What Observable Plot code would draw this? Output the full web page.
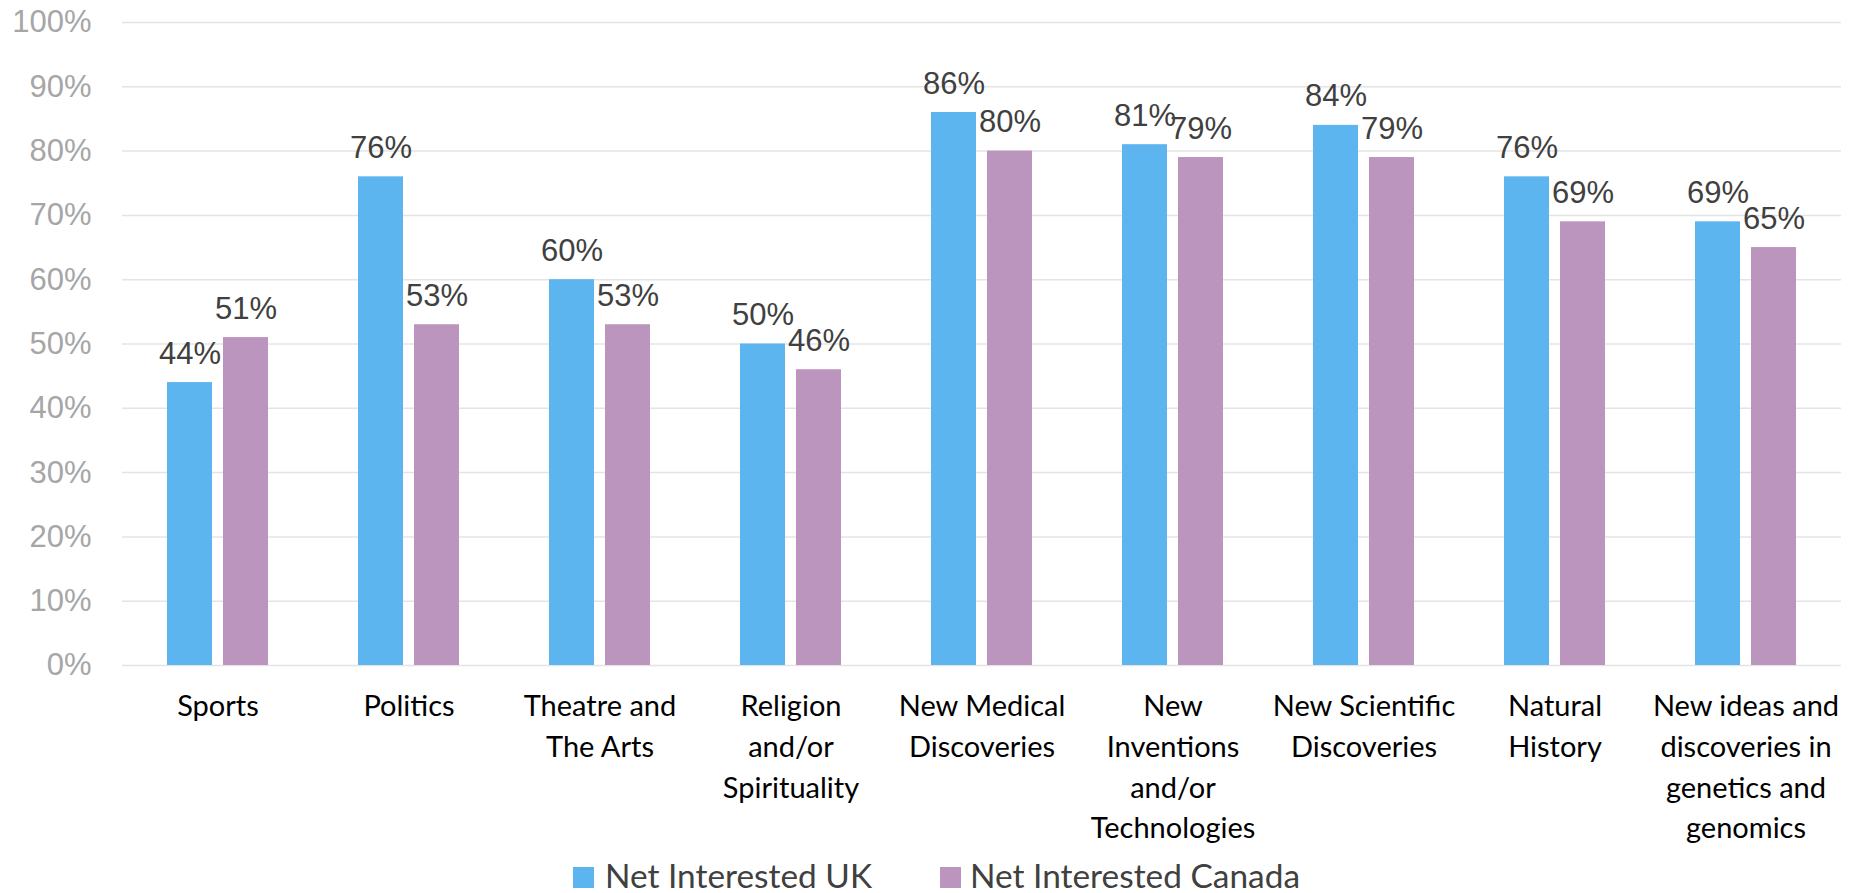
<!DOCTYPE html>
<html>
<head>
<meta charset="utf-8">
<script src="https://cdn.jsdelivr.net/npm/d3@7"></script>
<script src="https://cdn.jsdelivr.net/npm/@observablehq/plot@0.6"></script>
<style>
  html, body { margin: 0; padding: 0; background: #fff; }
  #chart svg { display: block; }
  #legend { position: relative; width: 1854px; height: 35px; font-family: Lato, "Noto Sans", sans-serif; color: #404040; }
  .item { position: absolute; top: 0; height: 35px; }
  .sw { position: absolute; top: 9px; left: 0; width: 21px; height: 21px; }
  .lt { position: absolute; top: 2px; white-space: nowrap; font-size: 32px; line-height: 32px; transform-origin: left center; }
</style>
</head>
<body>
<div id="chart"></div>
<div id="legend"></div>
<script>
const categories = ["Sports", "Politics", "Theatre and The Arts", "Religion and/or Spirituality",
  "New Medical Discoveries", "New Inventions and/or Technologies", "New Scientific Discoveries",
  "Natural History", "New ideas and discoveries in genetics and genomics"];
const tickLabels = ["Sports", "Politics", "Theatre and\nThe Arts", "Religion\nand/or\nSpirituality",
  "New Medical\nDiscoveries", "New\nInventions\nand/or\nTechnologies", "New Scientific\nDiscoveries",
  "Natural\nHistory", "New ideas and\ndiscoveries in\ngenetics and\ngenomics"];
const seriesNames = ["Net Interested UK", "Net Interested Canada"];
const ukValues = [44, 76, 60, 50, 86, 81, 84, 76, 69];
const canadaValues = [51, 53, 53, 46, 80, 79, 79, 69, 65];
const yTicks = [0, 10, 20, 30, 40, 50, 60, 70, 80, 90, 100];
const colors = ["#5DB5F0", "#BC95BE"];

const rows = [];
categories.forEach((c, i) => {
  rows.push({category: c, series: seriesNames[0], value: ukValues[i]});
  rows.push({category: c, series: seriesNames[1], value: canadaValues[i]});
});

const chart = Plot.plot({
  width: 1854,
  height: 858,
  marginLeft: 120,
  marginRight: 11,
  marginTop: 22,
  marginBottom: 193,
  style: {fontFamily: "'Liberation Sans', Arial, sans-serif", background: "white"},
  fx: {domain: categories, padding: 0, axis: null},
  x: {domain: seriesNames, paddingInner: 0.2, paddingOuter: 0.8, axis: null},
  y: {domain: [0, 100]},
  color: {domain: seriesNames, range: colors},
  marks: [
    Plot.ruleY(yTicks, {stroke: "#e4e4e4", strokeWidth: 1.5}),
    Plot.axisY({ticks: yTicks, tickFormat: d => d + "%", tickSize: 0, tickPadding: 31,
      fontSize: 31, fill: "#a6a6a6", label: null}),
    Plot.barY(rows, {fx: "category", x: "series", y: "value", fill: "series"}),
    Plot.text(rows, {fx: "category", x: "series", y: "value", text: d => d.value + "%",
      lineAnchor: "bottom", dy: -19, fontSize: 31, fill: "#404040"}),
    Plot.text(categories, {fx: d => d, text: (d, i) => tickLabels[i], frameAnchor: "bottom",
      lineAnchor: "top", dy: 22, fontSize: 29, lineHeight: 1.40, fill: "#000",
      fontFamily: "Lato, 'Noto Sans', sans-serif"})
  ]
});
document.getElementById("chart").appendChild(chart);

// legend
const legend = document.getElementById("legend");
const lefts = [573, 940];
const textOffsets = [32, 30];
const textWidths = [267, 330];
seriesNames.forEach((name, i) => {
  const item = document.createElement("div");
  item.className = "item";
  item.style.left = lefts[i] + "px";
  const sw = document.createElement("div");
  sw.className = "sw";
  sw.style.background = colors[i];
  const t = document.createElement("span");
  t.className = "lt";
  t.textContent = name;
  t.style.left = textOffsets[i] + "px";
  item.appendChild(sw);
  item.appendChild(t);
  legend.appendChild(item);
  const w = t.getBoundingClientRect().width;
  t.style.transform = `scaleX(${textWidths[i] / w})`;
});
</script>
</body>
</html>
